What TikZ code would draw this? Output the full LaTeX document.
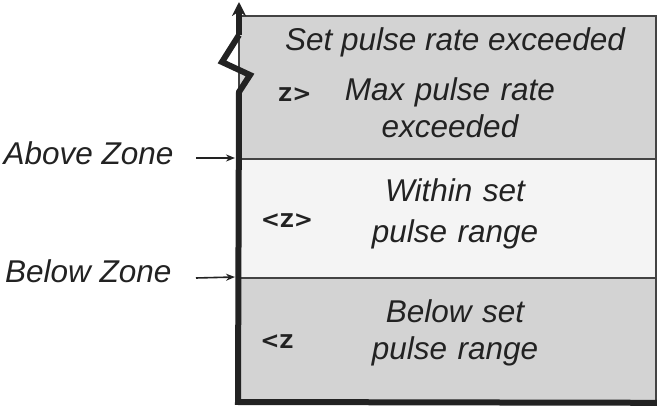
\documentclass[tikz,border=0pt]{standalone}
\usepackage{fontspec}
\setmainfont{Liberation Sans}
\newfontfamily\markfont{DejaVu Sans}
\usetikzlibrary{arrows.meta}
\definecolor{zonedark}{HTML}{D3D3D3}
\definecolor{zonelight}{HTML}{F4F4F4}
\definecolor{ink}{HTML}{222222}
\newcommand{\chev}[1]{{\fontsize{23}{21}\selectfont #1}}
\begin{document}
\begin{tikzpicture}[x=1pt,y=-1pt,
  zone/.style={draw=ink!85, line width=1.8pt, anchor=north west, inner sep=0pt, minimum width=417pt},
  lbl/.style={font=\fontsize{31.5}{35}\selectfont\itshape, text=ink, align=center},
  zmark/.style={font=\markfont\fontsize{19}{21}\selectfont\bfseries, text=ink, inner sep=0pt},
  arr/.style={-{Stealth[length=9pt,width=7pt]}, line width=1.6pt, draw=ink},
  axis/.style={line width=6pt, draw=ink}]
\useasboundingbox (0,0) rectangle (657,409);
% zones
\node (zt) [zone, fill=zonedark, minimum height=143pt] at (238,15) {};
\node (zm) [zone, fill=zonelight, minimum height=119pt] at (238,158) {};
\node (zb) [zone, fill=zonedark, minimum height=124pt] at (238,277) {};
% axis with break
\coordinate (ax0) at (238,402);
\coordinate (ax1) at (239,92);
\coordinate (ax2) at (250,75);
\coordinate (ax3) at (222,62);
\coordinate (ax4) at (239,35);
\coordinate (ax5) at (239,2);
\draw[axis, line join=miter] (zb.south east) -- (ax0) -- (ax1) -- (ax2) -- (ax3) -- (ax4);
\draw[-{Stealth[length=14pt,width=14pt]}, line width=6pt, draw=ink] (ax4) -- (ax5);
% texts
\node (t1) [lbl] at (455,42) {Set pulse rate exceeded};
\node (t2) [lbl, text width=300pt] at (450,108) {Max pulse rate\\[2pt]exceeded};
\node (t3) [lbl, text width=300pt] at (455,214) {Within set\\[6pt]pulse range};
\node (t4) [lbl, text width=300pt] at (455,333) {Below set\\[2pt]pulse range};
\node (z1) [zmark] at (295,95) {Z\chev{>}};
\node (z2) [zmark] at (287,221) {\chev{<}Z\chev{>}};
\node (z3) [zmark] at (277,342) {\chev{<}Z};
% zone markers
\node (above) [lbl, anchor=east] at (177,153) {Above Zone};
\node (below) [lbl, anchor=east] at (175,271) {Below Zone};
\coordinate (aS) at (196,158);
\coordinate (bS) at (196,278);
\draw[arr] (aS) -- ([xshift=-3pt]zm.north west);
\draw[arr] (bS) -- ([xshift=-3pt]zb.north west);
\end{tikzpicture}
\end{document}
